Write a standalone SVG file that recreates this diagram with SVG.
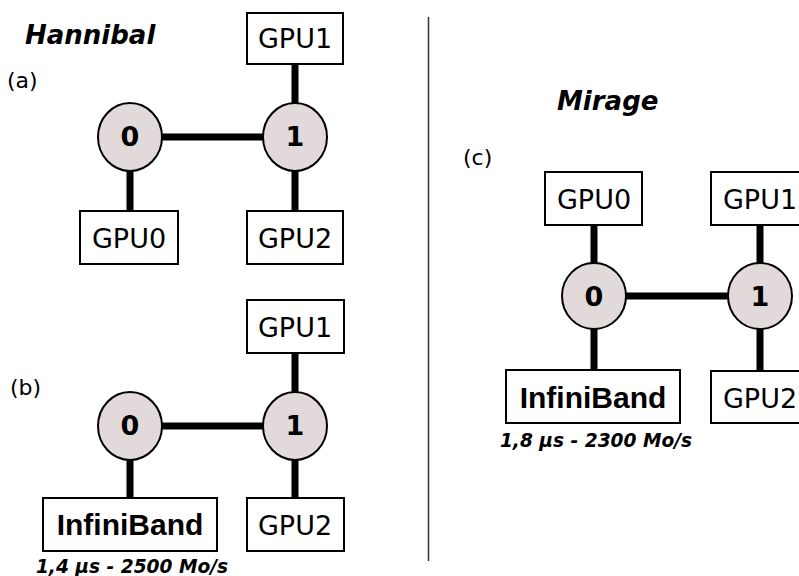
<svg xmlns="http://www.w3.org/2000/svg" width="799" height="576" viewBox="0 0 799 576">
<style>
.box{fill:#fff;stroke:#000;stroke-width:2}
.node{fill:#e2dada;stroke:#000;stroke-width:2}
.link{stroke:#000;stroke-width:7;fill:none}
.gpu{font-family:"DejaVu Sans",sans-serif;font-size:27px;text-anchor:middle}
.num{font-family:"DejaVu Sans",sans-serif;font-weight:bold;font-size:27px;text-anchor:middle}
.ib{font-family:"Liberation Sans",Arial,sans-serif;font-weight:bold;font-size:30px;text-anchor:middle}
.title{font-family:"DejaVu Sans",sans-serif;font-weight:bold;font-style:italic;font-size:26px}
.cap{font-family:"DejaVu Sans",sans-serif;font-weight:bold;font-style:italic;font-size:18.6px;text-anchor:middle}
.lab{font-family:"DejaVu Sans",sans-serif;font-size:22px}
</style>
<rect width="799" height="576" fill="#fff"/>
<line x1="428.5" y1="17" x2="428.5" y2="561" stroke="#333" stroke-width="1.5"/>
<text class="title" x="25" y="44">Hannibal</text>
<text class="lab" x="7" y="88">(a)</text>
<text class="lab" x="10" y="395">(b)</text>
<text class="title" x="557" y="110">Mirage</text>
<text class="lab" x="463" y="165">(c)</text>
<g id="connectors">
<line class="link" x1="130" y1="137" x2="295" y2="137"/>
<line class="link" x1="130" y1="137" x2="130" y2="211"/>
<line class="link" x1="295" y1="64" x2="295" y2="211"/>
<line class="link" x1="130" y1="426" x2="295" y2="426"/>
<line class="link" x1="130" y1="426" x2="130" y2="498"/>
<line class="link" x1="295" y1="353" x2="295" y2="498"/>
<line class="link" x1="594" y1="296" x2="760" y2="296"/>
<line class="link" x1="594" y1="225" x2="594" y2="370"/>
<line class="link" x1="760" y1="225" x2="760" y2="371"/>
</g>
<g id="a-gpu1"><rect class="box" x="247" y="13" width="96" height="51"/><text class="gpu" x="295" y="48">GPU1</text></g>
<g id="a-n0"><ellipse class="node" cx="130" cy="137" rx="32" ry="34"/><text class="num" x="130" y="146">0</text></g>
<g id="a-n1"><ellipse class="node" cx="295" cy="137" rx="32" ry="34"/><text class="num" x="295" y="146">1</text></g>
<g id="a-gpu0"><rect class="box" x="80" y="211" width="98" height="53"/><text class="gpu" x="129" y="248">GPU0</text></g>
<g id="a-gpu2"><rect class="box" x="247" y="211" width="96" height="53"/><text class="gpu" x="295" y="248">GPU2</text></g>
<g id="b-gpu1"><rect class="box" x="247" y="300" width="97" height="53"/><text class="gpu" x="295" y="337">GPU1</text></g>
<g id="b-n0"><ellipse class="node" cx="130" cy="426" rx="32" ry="34"/><text class="num" x="130" y="435">0</text></g>
<g id="b-n1"><ellipse class="node" cx="295" cy="426" rx="32" ry="34"/><text class="num" x="295" y="435">1</text></g>
<g id="b-ib"><rect class="box" x="43" y="498" width="174" height="53"/><text class="ib" x="130" y="535">InfiniBand</text></g>
<g id="b-gpu2"><rect class="box" x="247" y="498" width="97" height="53"/><text class="gpu" x="295" y="535">GPU2</text></g>
<text class="cap" x="132" y="573">1,4 µs - 2500 Mo/s</text>
<g id="c-gpu0"><rect class="box" x="545" y="172" width="97" height="53"/><text class="gpu" x="594" y="209">GPU0</text></g>
<g id="c-gpu1"><rect class="box" x="711" y="172" width="97" height="53"/><text class="gpu" x="760" y="209">GPU1</text></g>
<g id="c-n0"><ellipse class="node" cx="594" cy="296" rx="32" ry="33"/><text class="num" x="594" y="306">0</text></g>
<g id="c-n1"><ellipse class="node" cx="760" cy="296" rx="32" ry="33"/><text class="num" x="760" y="306">1</text></g>
<g id="c-ib"><rect class="box" x="506" y="370" width="174" height="53"/><text class="ib" x="593" y="408">InfiniBand</text></g>
<g id="c-gpu2"><rect class="box" x="711" y="371" width="97" height="52"/><text class="gpu" x="760" y="408">GPU2</text></g>
<text class="cap" x="596" y="447">1,8 µs - 2300 Mo/s</text>
</svg>
